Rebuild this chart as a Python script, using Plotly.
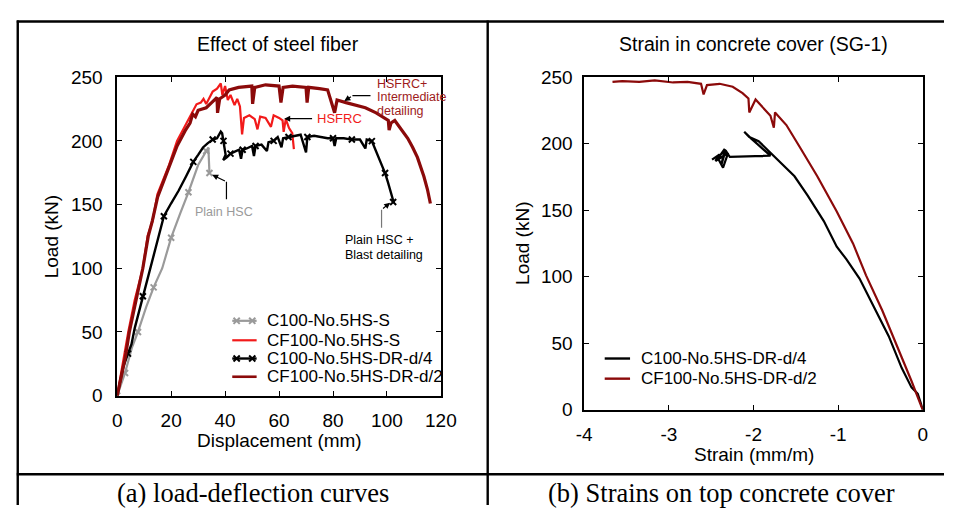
import plotly.graph_objects as go

# ---------------- data: (a) load-deflection ----------------
gray_disp = [0, 1.2, 2.9, 5.5, 7.7, 10.7, 13.5, 16.7, 20.0, 23.4, 26.4, 30.0, 33.0, 33.8, 34.2]
gray_load = [0, 8, 17.8, 38, 50, 69.3, 85, 100, 124, 143.3, 159.6, 181, 192, 194.8, 174.7]

red_disp = [0, 1.0, 2.5, 4.1, 6.5, 9.5, 11.3, 13.1, 14.9, 17.0,
            19.2, 22.2, 25.2, 27.0, 29.4, 31.0, 32.0, 33.0, 35.4, 37.0,
            38.4, 39.0, 40.0, 41.0, 42.0, 43.5, 44.5, 45.5, 46.3, 47.0,
            49.0, 51.0, 52.0, 53.0, 55.0, 57.0, 58.0, 60.0, 61.3, 61.7,
            62.5, 63.7, 64.9, 65.5]
red_load = [0, 12, 28, 50, 75, 100, 125.7, 137, 158, 170,
            181, 200, 212, 218, 228.7, 230, 233, 229, 238.7, 241,
            245, 236, 243, 232, 236, 228, 233, 227, 205, 218,
            220, 217, 209, 219, 218, 211, 220, 218, 216, 207,
            217, 210, 206, 193.5]

black_disp = [0, 1.0, 2.3, 4.0, 5.3, 6.5, 8.0, 9.5, 11.2, 13.1,
              15.2, 17.3, 20.0, 22.8, 25.5, 28.2, 30.0, 31.8, 33.5, 35.4,
              37.0, 38.4, 38.9, 39.4, 40.2, 39.3, 40.6, 42.0, 43.8, 45.2,
              45.9, 46.5, 48.0, 50.0, 50.7, 51.3, 53.5, 55.5, 56.1, 58.0,
              59.5, 60.9, 61.5, 63.5, 66.0, 68.0, 70.0, 70.5, 73.0, 76.0,
              78.0, 80.0, 80.6, 81.2, 84.0, 87.0, 90.0, 92.0, 92.5, 94.4,
              95.5, 96.9, 98.2, 99.3, 100.3, 101.1, 101.8, 102.3, 102.6]
black_load = [0, 10, 22.8, 33, 40.4, 53, 65, 78, 90, 105,
              124, 140.8, 151, 161, 172, 183.5, 189, 194.8, 198, 201,
              202, 207.3, 206, 200, 189, 185, 187, 190, 192, 193,
              186, 193, 194, 196, 188, 196, 197, 192, 199, 200,
              203, 195, 202, 203, 204, 204.8, 191, 203, 204, 203,
              202, 202, 196, 202, 202, 201, 201, 194, 201, 199.8,
              194, 187, 181, 174.7, 168, 162, 157, 152, 151]

dred_disp = [0, 1.0, 3.0, 4.5, 7.0, 9.5, 11.5, 13.0, 15.0, 17.5,
             19.2, 22.2, 25.2, 27.0, 28.0, 29.0, 30.0, 33.0, 35.0, 37.0,
             37.2, 38.0, 40.0, 41.5, 45.0, 48.0, 49.9, 50.2, 51.0, 55.0,
             60.0, 60.7, 61.5, 65.0, 70.0, 70.4, 71.0, 75.0, 78.0, 80.6,
             81.5, 84.8, 88.0, 92.0, 96.0, 100.5, 100.8, 101.5, 102.9, 105.0,
             107.7, 109.5, 111.3, 113.7, 115.0, 116.1]
dred_load = [0, 10, 30, 50, 75, 100, 125, 137, 156, 170,
             179, 196, 208, 214, 221, 219, 224, 226, 230, 234,
             222, 233, 236, 240, 242, 243, 243, 229, 242, 244,
             243, 230, 242, 243, 242, 230, 242, 241, 240, 222,
             232, 230, 228, 226, 222, 216, 208.5, 214, 216, 210,
             202, 195, 187, 172, 162, 150.8]

# ---------------- data: (b) strain in concrete cover ----------------
b_black_strain = [0, -0.06, -0.134, -0.249, -0.403, -0.556, -0.748, -0.902, -1.017, -1.17,
                  -1.36, -1.516, -1.708, -1.823, -1.94, -2.05, -2.11, -2.03, -1.96, -1.87,
                  -1.80, -2.28, -2.33, -2.38, -2.34, -2.42, -2.36, -2.30, -2.45, -2.40,
                  -2.49]
b_black_load = [0, 12, 16.8, 31.3, 55.3, 74.6, 98.6, 113, 122.6, 141.8,
                161, 175.5, 187.5, 194.7, 201.9, 205, 209, 204, 200, 195,
                191, 190, 195, 184, 196, 189, 182, 193, 187, 192,
                188]

b_dred_strain = [0, -0.018, -0.134, -0.326, -0.479, -0.671, -0.825, -1.017, -1.247, -1.44,
                 -1.612, -1.746, -1.76, -1.80, -1.976, -2.05, -2.06, -2.13, -2.246, -2.4,
                 -2.55, -2.59, -2.62, -2.78, -2.95, -3.167, -3.35, -3.55, -3.666]
b_dred_load = [0, 2.5, 21.6, 50.5, 74.6, 101, 125, 149, 175.5, 196,
               214, 223.5, 212, 221, 233.2, 223.5, 234, 238, 242.8, 245,
               244, 237, 245, 246.4, 246, 247.6, 246.5, 247, 246.4]

names_a = ["C100-No.5HS-S", "CF100-No.5HS-S", "C100-No.5HS-DR-d/4", "CF100-No.5HS-DR-d/2"]
names_b = ["C100-No.5HS-DR-d/4", "CF100-No.5HS-DR-d/2"]

strain_ticks = [-4, -3, -2, -1, 0]
strain_ticktext = ["-4", "-3", "-2", "-1", "0"]

GRAY = "#9a9a9a"
RED = "#f21a1a"
DRED = "#8b0a0a"
BLACK = "#000000"
SANS = "Liberation Sans, Arial, sans-serif"
SERIF = "Liberation Serif, Times New Roman, serif"

W, H = 960, 516


def px(x):
    return x / W


def py(y):
    return 1 - y / H


fig = go.Figure()

# (a)
fig.add_trace(go.Scatter(x=gray_disp, y=gray_load, name=names_a[0], mode="lines+markers",
                         line=dict(color=GRAY, width=2.2),
                         marker=dict(symbol="x-thin", size=6, line=dict(color=GRAY, width=2), maxdisplayed=10),
                         xaxis="x", yaxis="y", showlegend=False))
fig.add_trace(go.Scatter(x=red_disp, y=red_load, name=names_a[1], mode="lines",
                         line=dict(color=RED, width=2.2),
                         xaxis="x", yaxis="y", showlegend=False))
fig.add_trace(go.Scatter(x=black_disp, y=black_load, name=names_a[2], mode="lines+markers",
                         line=dict(color=BLACK, width=2.4),
                         marker=dict(symbol="x-thin", size=6, line=dict(color=BLACK, width=2), maxdisplayed=22),
                         xaxis="x", yaxis="y", showlegend=False))
fig.add_trace(go.Scatter(x=dred_disp, y=dred_load, name=names_a[3], mode="lines",
                         line=dict(color=DRED, width=3.2),
                         xaxis="x", yaxis="y", showlegend=False))

# (b)
fig.add_trace(go.Scatter(x=b_black_strain, y=b_black_load, name=names_b[0], mode="lines",
                         line=dict(color=BLACK, width=2.2),
                         xaxis="x2", yaxis="y2", showlegend=False))
fig.add_trace(go.Scatter(x=b_dred_strain, y=b_dred_load, name=names_b[1], mode="lines",
                         line=dict(color=DRED, width=2.2),
                         xaxis="x2", yaxis="y2", showlegend=False))

TICKFONT = dict(family=SANS, size=19, color="black")
axis_common = dict(showline=True, linecolor="black", linewidth=1.5, mirror="ticks",
                   ticks="inside", ticklen=5, tickwidth=1.2, tickcolor="black",
                   showgrid=False, zeroline=False, tickfont=TICKFONT)

fig.update_layout(
    width=W, height=H,
    margin=dict(l=0, r=0, t=0, b=0),
    paper_bgcolor="white", plot_bgcolor="white",
    showlegend=False,
    xaxis=dict(domain=[px(112), px(444)], range=[0, 120], dtick=20, anchor="y",
               ticklabelstandoff=7, **axis_common),
    yaxis=dict(domain=[py(402), py(70)], range=[0, 250], dtick=50, anchor="x",
               ticklabelstandoff=9, **axis_common),
    xaxis2=dict(domain=[px(591), px(938.3)], range=[-4, 0], anchor="y2",
                tickvals=strain_ticks, ticktext=strain_ticktext,
                ticklabelstandoff=7, **axis_common),
    yaxis2=dict(domain=[py(416.7), py(70)], range=[0, 250], dtick=50, anchor="x2",
                ticklabelstandoff=6, **axis_common),
)

# table borders
lw = 2.4
for (x0, y0, x1, y1) in [(9, 12, 960, 12), (10, 11, 10, 516), (492, 11, 492, 516), (9, 484, 960, 484)]:
    fig.add_shape(type="line", xref="paper", yref="paper", x0=px(x0), x1=px(x1), y0=py(y0), y1=py(y1),
                  line=dict(color="black", width=lw))

ann = []


def text(x, y, s, size=19.5, color="black", family=SANS, xanchor="center", angle=0, xref="paper", yref="paper"):
    ann.append(dict(x=x, y=y, xref=xref, yref=yref, text=s, showarrow=False, xanchor=xanchor,
                    yanchor="middle", textangle=angle, font=dict(family=family, size=size, color=color)))


# titles
text(px(277), py(35), "Effect of steel fiber")
text(px(765), py(35), "Strain in concrete cover (SG-1)")
# axis titles
text(px(278), py(449), "Displacement (mm)", size=19)
text(px(765), py(463), "Strain (mm/m)", size=19)
text(px(44), py(236), "Load (kN)", size=19, angle=-90)
text(px(527), py(243), "Load (kN)", size=19, angle=-90)
# captions
text(px(251), py(503), "(a) load-deflection curves", size=26.5, family=SERIF)
text(px(732), py(503), "(b) Strains on top concrete cover", size=26.5, family=SERIF)


# manual legends (sample line + marker + label)
def legend_entry(x0, x1, y, tx, label, color, width, marks):
    fig.add_shape(type="line", xref="paper", yref="paper", x0=px(x0), x1=px(x1), y0=py(y), y1=py(y),
                  line=dict(color=color, width=width))
    for mx in marks:
        s = 3.2
        for dy in (s, -s):
            fig.add_shape(type="line", xref="paper", yref="paper",
                          x0=px(mx - s), x1=px(mx + s), y0=py(y - dy), y1=py(y + dy),
                          line=dict(color=color, width=2))
    text(px(tx), py(y), label, size=17, xanchor="left")


legend_a_rows = [324, 344.3, 363.3, 382.3]
legend_entry(230, 255, legend_a_rows[0], 264, names_a[0], GRAY, 2.2, [234.5, 250.5])
legend_entry(230, 255, legend_a_rows[1], 264, names_a[1], RED, 2.2, [])
legend_entry(230, 255, legend_a_rows[2], 264, names_a[2], BLACK, 2.4, [234.5, 250.5])
legend_entry(230, 255, legend_a_rows[3], 264, names_a[3], DRED, 2.6, [])

legend_b_rows = [363.3, 384.3]
legend_entry(612, 638, legend_b_rows[0], 647.5, names_b[0], BLACK, 2.4, [])
legend_entry(612, 638, legend_b_rows[1], 647.5, names_b[1], DRED, 2.4, [])

# curve labels in (a)
ANN_RED = "#9e1b1b"
text(95.4, 245, "HSFRC+", size=12.5, color=ANN_RED, xanchor="left", xref="x", yref="y")
text(95.4, 234.2, "Intermediate", size=12.5, color=ANN_RED, xanchor="left", xref="x", yref="y")
text(95.4, 223.7, "detailing", size=12.5, color=ANN_RED, xanchor="left", xref="x", yref="y")
text(73.4, 217.4, "HSFRC", size=13, color=RED, xanchor="left", xref="x", yref="y")
text(39.6, 144, "Plain HSC", size=12.5, color=GRAY, xref="x", yref="y")
text(83.6, 122, "Plain HSC +", size=12.5, color="black", xanchor="left", xref="x", yref="y")
text(83.6, 110.7, "Blast detailing", size=12.5, color="black", xanchor="left", xref="x", yref="y")


def arrow(x, y, ax, ay, color="black"):
    ann.append(dict(x=x, y=y, ax=ax, ay=ay, xref="x", yref="y", axref="x", ayref="y",
                    showarrow=True, arrowhead=2, arrowsize=1, arrowwidth=1.2, arrowcolor=color, text=""))


def seg(x0, y0, x1, y1, color="black"):
    fig.add_shape(type="line", xref="x", yref="y", x0=x0, y0=y0, x1=x1, y1=y1,
                  line=dict(color=color, width=1.2))


# HSFRC+ arrow
arrow(84.2, 231.2, 87.2, 235.5)
seg(87.2, 235.5, 93.9, 235.5)
# HSFRC arrow
arrow(61.9, 217.4, 72.8, 217.4)
# Plain HSC arrow
arrow(35.2, 173.4, 40.5, 167.9)
seg(40.5, 167.9, 40.5, 154.1)
# Plain HSC + Blast arrow
arrow(101.2, 151.5, 98.0, 145.9)
seg(98.0, 145.9, 98.0, 131.8, color="#777777")

fig.update_layout(annotations=ann)

fig.write_html("out.html")
